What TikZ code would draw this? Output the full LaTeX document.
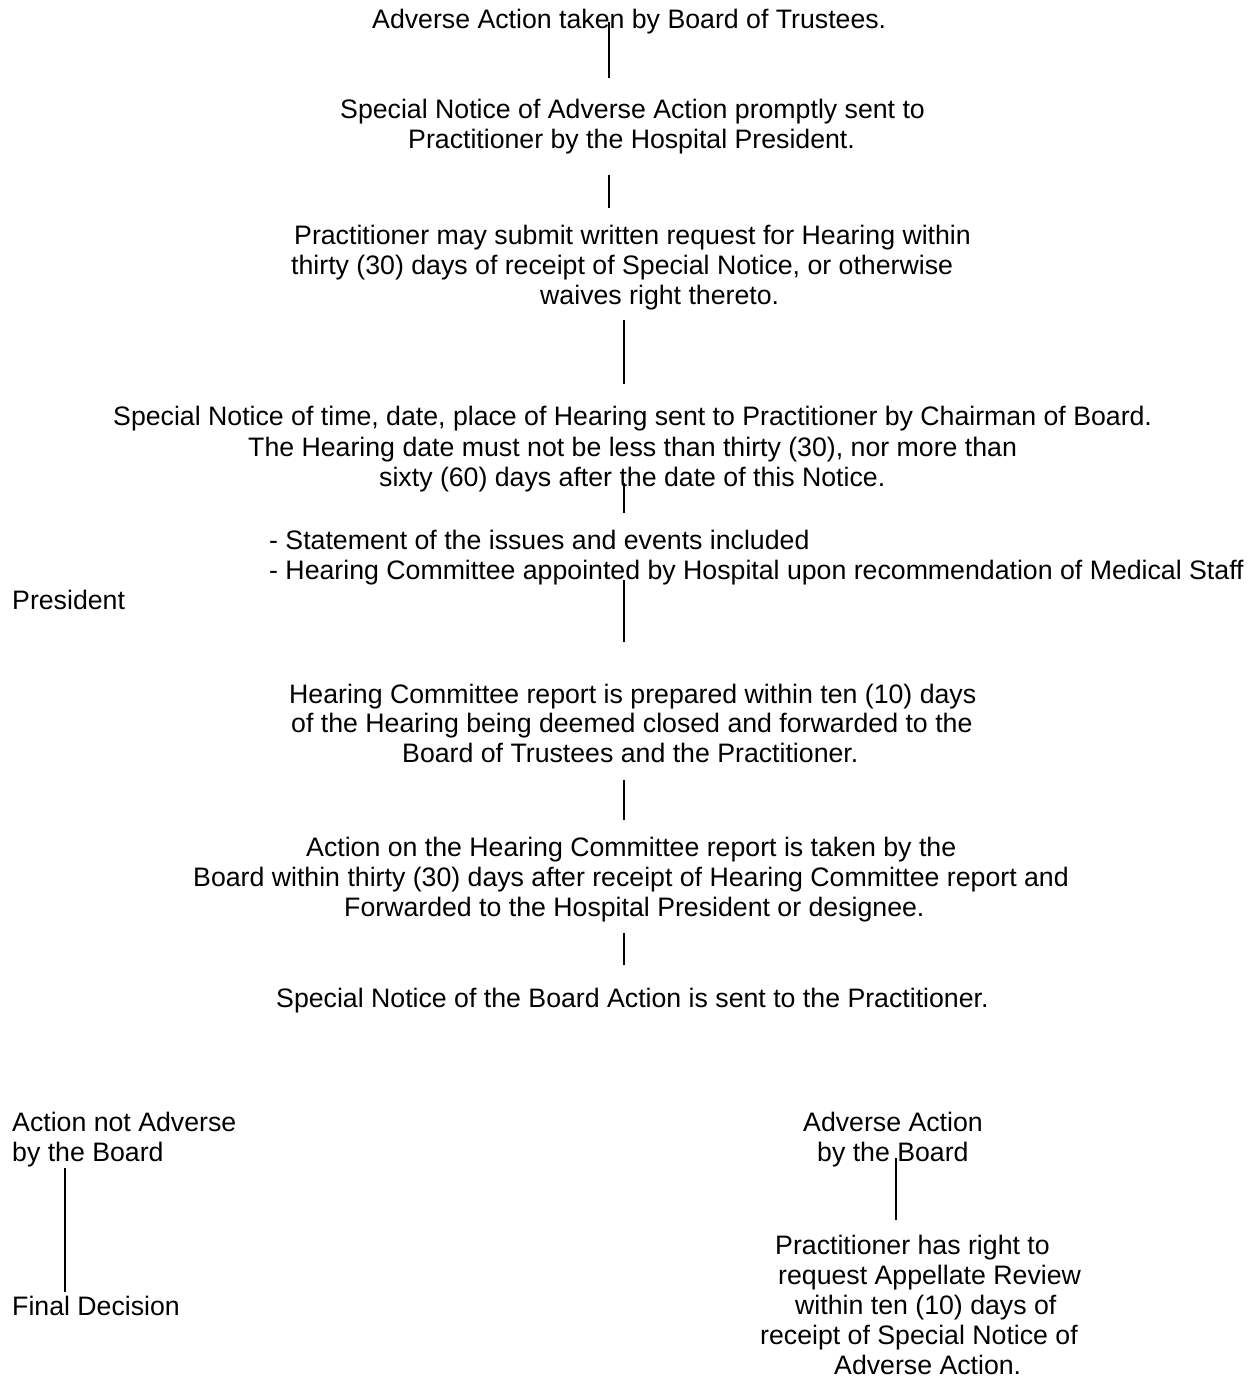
\documentclass[tikz,border=0pt]{standalone}
\usepackage{fontspec}
\setmainfont{Liberation Sans}
\begin{document}
\begin{tikzpicture}[x=1pt,y=1pt,
  txt/.style={inner sep=0pt, anchor=base west, font=\fontsize{26.7}{30}\selectfont},
  conn/.style={line width=1.8pt, black}]
\fill[white] (0,0) rectangle (1260,-1378);
\useasboundingbox (0,0) rectangle (1260,-1378);
% text lines
\node[txt] (t1)  at (372,-29)  {Adverse Action taken by Board of Trustees.};
\node[txt] (t2a) at (340,-119) {Special Notice of Adverse Action promptly sent to};
\node[txt] (t2b) at (408,-149) {Practitioner by the Hospital President.};
\node[txt] (t3a) at (294,-244) {Practitioner may submit written request for Hearing within};
\node[txt] (t3b) at (291,-274) {thirty (30) days of receipt of Special Notice, or otherwise};
\node[txt] (t3c) at (540,-304) {waives right thereto.};
\node[txt] (t4a) at (113,-425) {Special Notice of time, date, place of Hearing sent to Practitioner by Chairman of Board.};
\node[txt] (t4b) at (248,-456) {The Hearing date must not be less than thirty (30), nor more than};
\node[txt] (t4c) at (379,-486) {sixty (60) days after the date of this Notice.};
\node[txt] (t5a) at (269,-549) {- Statement of the issues and events included};
\node[txt] (t5b) at (269,-579) {- Hearing Committee appointed by Hospital upon recommendation of Medical Staff};
\node[txt] (t5c) at (12,-609)  {President};
\node[txt] (t6a) at (289,-703) {Hearing Committee report is prepared within ten (10) days};
\node[txt] (t6b) at (291,-732) {of the Hearing being deemed closed and forwarded to the};
\node[txt] (t6c) at (402,-762) {Board of Trustees and the Practitioner.};
\node[txt] (t7a) at (306,-856) {Action on the Hearing Committee report is taken by the};
\node[txt] (t7b) at (193,-886) {Board within thirty (30) days after receipt of Hearing Committee report and};
\node[txt] (t7c) at (344,-916) {Forwarded to the Hospital President or designee.};
\node[txt] (t8)  at (276,-1007) {Special Notice of the Board Action is sent to the Practitioner.};
\node[txt] (l1a) at (12,-1131) {Action not Adverse};
\node[txt] (l1b) at (12,-1161) {by the Board};
\node[txt] (l2)  at (12,-1315) {Final Decision};
\node[txt] (r1a) at (803,-1131) {Adverse Action};
\node[txt] (r1b) at (817,-1161) {by the Board};
\node[txt] (r2a) at (775,-1254) {Practitioner has right to};
\node[txt] (r2b) at (778,-1284) {request Appellate Review};
\node[txt] (r2c) at (795,-1314) {within ten (10) days of};
\node[txt] (r2d) at (760,-1344) {receipt of Special Notice of};
\node[txt] (r2e) at (834,-1374) {Adverse Action.};
% connector end points
\coordinate (c1s) at (609,-22);  \coordinate (c1e) at (609,-78);
\coordinate (c2s) at (609,-175); \coordinate (c2e) at (609,-208);
\coordinate (c3s) at (624,-320); \coordinate (c3e) at (624,-384);
\coordinate (c4s) at (624,-483); \coordinate (c4e) at (624,-513);
\coordinate (c5s) at (624,-580); \coordinate (c5e) at (624,-642);
\coordinate (c6s) at (624,-780); \coordinate (c6e) at (624,-820);
\coordinate (c7s) at (624,-933); \coordinate (c7e) at (624,-965);
\coordinate (c8s) at (65,-1168); \coordinate (c8e) at (65,-1292);
\coordinate (c9s) at (896,-1158); \coordinate (c9e) at (896,-1220);
\draw[conn] (c1s) -- (c1e);
\draw[conn] (c2s) -- (c2e);
\draw[conn] (c3s) -- (c3e);
\draw[conn] (c4s) -- (c4e);
\draw[conn] (c5s) -- (c5e);
\draw[conn] (c6s) -- (c6e);
\draw[conn] (c7s) -- (c7e);
\draw[conn] (c8s) -- (c8e);
\draw[conn] (c9s) -- (c9e);
\end{tikzpicture}
\end{document}
